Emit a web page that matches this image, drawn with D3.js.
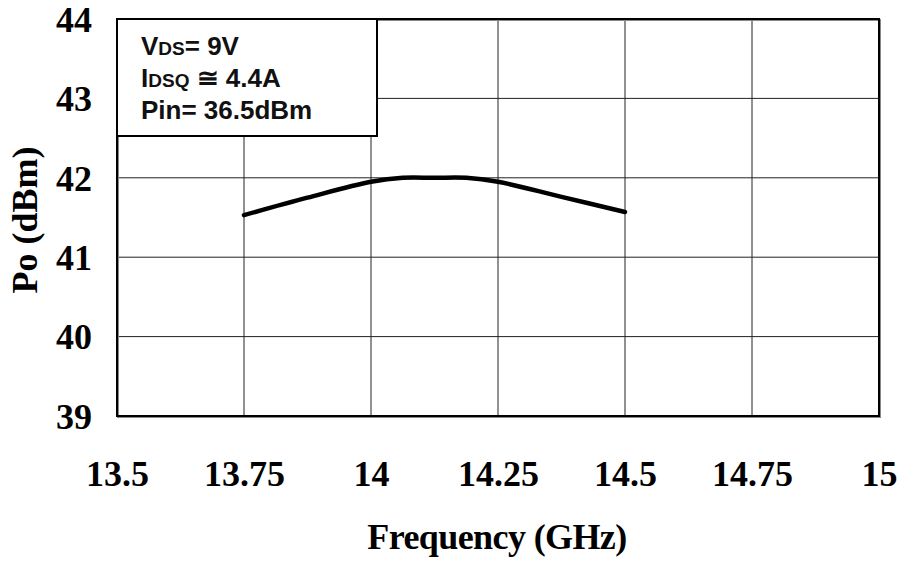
<!DOCTYPE html>
<html>
<head>
<meta charset="utf-8">
<script src="https://cdn.jsdelivr.net/npm/d3@7"></script>
<style>
  body { margin: 0; background: #fff; }
  svg { display: block; }
</style>
</head>
<body>
<div id="container"></div>
<script>
const canvasWidth = 904;
const canvasHeight = 565;

// plot frame in pixels
const plotLeft = 117;
const plotRight = 879;
const plotTop = 19;
const plotBottom = 416;

// data
let freq = [13.75, 13.875, 14.0, 14.0625, 14.125, 14.1875, 14.25, 14.375, 14.5];
let pout = [41.53, 41.75, 41.95, 42.0, 42.0, 42.0, 41.95, 41.76, 41.57];

let xTicks = [13.5, 13.75, 14, 14.25, 14.5, 14.75, 15];
let yTicks = [39, 40, 41, 42, 43, 44];

let xTitle = 'Frequency (GHz)';
let yTitle = 'Po (dBm)';

let serif = '"Liberation Serif", "Times New Roman", serif';
let sans = '"Liberation Sans", Arial, sans-serif';

let svg = d3.select('#container')
  .append('svg')
  .attr('width', canvasWidth)
  .attr('height', canvasHeight);

let xScale = d3.scaleLinear().domain([13.5, 15]).range([plotLeft, plotRight]);
let yScale = d3.scaleLinear().domain([39, 44]).range([plotBottom, plotTop]);

// grid
let grid = svg.append('g').attr('class', 'grid');
grid.selectAll('.vline').data(xTicks).enter()
  .append('line')
  .attr('x1', d => xScale(d)).attr('x2', d => xScale(d))
  .attr('y1', plotTop).attr('y2', plotBottom)
  .style('stroke', '#222').style('stroke-width', 1);
grid.selectAll('.hline').data(yTicks).enter()
  .append('line')
  .attr('x1', plotLeft).attr('x2', plotRight)
  .attr('y1', d => yScale(d)).attr('y2', d => yScale(d))
  .style('stroke', '#222').style('stroke-width', 1);

// frame with a little grey shadow like the original
svg.append('rect')
  .attr('x', plotLeft + 1).attr('y', plotTop + 1)
  .attr('width', plotRight - plotLeft).attr('height', plotBottom - plotTop)
  .style('fill', 'none').style('stroke', '#888').style('stroke-width', 2);
svg.append('rect')
  .attr('x', plotLeft).attr('y', plotTop)
  .attr('width', plotRight - plotLeft).attr('height', plotBottom - plotTop)
  .style('fill', 'none').style('stroke', '#000').style('stroke-width', 2);

// axes, drawn with d3 axes and then styled
let xAxis = d3.axisBottom(xScale).tickValues(xTicks).tickSize(0).tickPadding(0)
  .tickFormat(d => String(d));
svg.append('g')
  .attr('transform', 'translate(0,486)')
  .call(xAxis)
  .call(g => g.select('.domain').remove())
  .selectAll('text')
  .attr('dy', 0)
  .attr('y', 0)
  .style('font-family', serif)
  .style('font-weight', 'bold')
  .style('font-size', '36px')
  .style('fill', '#000');

let yAxis = d3.axisLeft(yScale).tickValues(yTicks).tickSize(0).tickPadding(25)
  .tickFormat(d => String(d));
svg.append('g')
  .attr('transform', 'translate(' + plotLeft + ',0)')
  .call(yAxis)
  .call(g => g.select('.domain').remove())
  .selectAll('text')
  .attr('dy', '0.34em')
  .style('font-family', serif)
  .style('font-weight', 'bold')
  .style('font-size', '36px')
  .style('fill', '#000');

// the curve
let line = d3.line()
  .x((d, i) => xScale(freq[i]))
  .y(d => yScale(d))
  .curve(d3.curveCatmullRom.alpha(0.5));

svg.append('path')
  .datum(pout)
  .attr('d', line)
  .style('fill', 'none')
  .style('stroke', '#000')
  .style('stroke-width', 4.5)
  .style('stroke-linecap', 'round')
  .style('stroke-linejoin', 'round');

// condition box
svg.append('rect')
  .attr('x', plotLeft).attr('y', plotTop)
  .attr('width', 260).attr('height', 117)
  .style('fill', '#fff').style('stroke', '#000').style('stroke-width', 2);

let box = svg.append('g')
  .style('font-family', sans)
  .style('font-weight', 'bold')
  .style('font-size', '26px')
  .style('fill', '#111');

let t1 = box.append('text').attr('x', 141).attr('y', 55);
t1.append('tspan').text('V');
t1.append('tspan').style('font-size', '19px').text('DS');
t1.append('tspan').text('= 9V');

let t2 = box.append('text').attr('x', 141).attr('y', 87);
t2.append('tspan').text('I');
t2.append('tspan').style('font-size', '19px').text('DSQ');
t2.append('tspan').text(' \u2245 4.4A');

box.append('text').attr('x', 141).attr('y', 119).text('Pin= 36.5dBm');

// titles
svg.append('text')
  .attr('x', 497).attr('y', 549)
  .attr('text-anchor', 'middle')
  .style('font-family', serif)
  .style('font-weight', 'bold')
  .style('font-size', '36px')
  .style('letter-spacing', '-0.6px')
  .text(xTitle);

svg.append('text')
  .attr('transform', 'translate(37,220) rotate(-90)')
  .attr('text-anchor', 'middle')
  .style('font-family', serif)
  .style('font-weight', 'bold')
  .style('font-size', '36px')
  .text(yTitle);
</script>
</body>
</html>
